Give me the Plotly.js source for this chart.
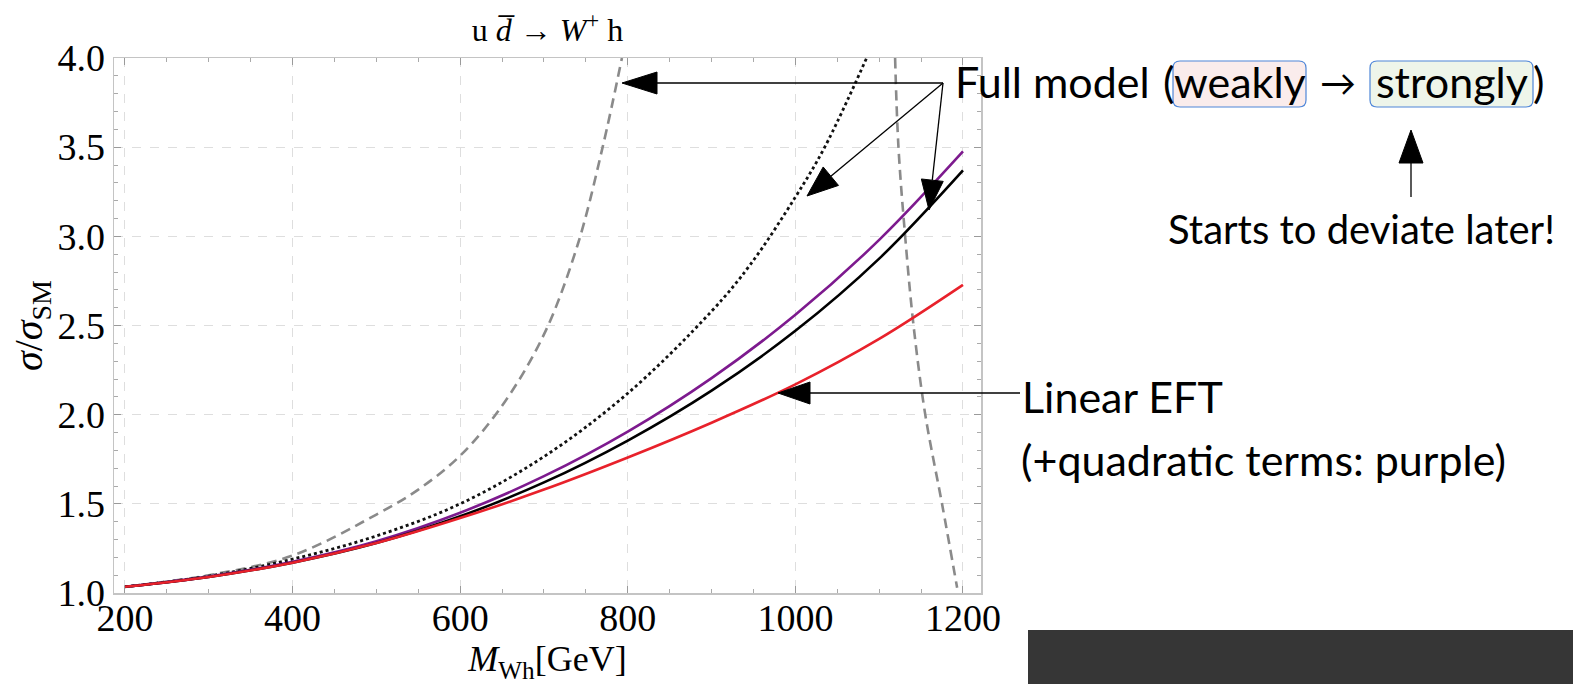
<!DOCTYPE html>
<html>
<head>
<meta charset="utf-8">
<script src="https://cdn.plot.ly/plotly-3.0.1.min.js"></script>
<style>html,body{margin:0;padding:0;background:#fff;}#chart{width:1573px;height:684px;}</style>
</head>
<body>
<div id="chart"></div>
<script>
// ---- data ----
const massGeV      = [200, 300, 400, 500, 600, 700, 800, 900, 1000, 1100, 1200];
const linearEFT    = [1.035, 1.09, 1.17, 1.28, 1.42, 1.58, 1.76, 1.955, 2.17, 2.425, 2.728];
const eftQuadratic = [1.035, 1.092, 1.175, 1.29, 1.45, 1.655, 1.905, 2.205, 2.56, 2.98, 3.476];
const fullStrong   = [1.035, 1.09, 1.17, 1.28, 1.43, 1.62, 1.855, 2.135, 2.47, 2.875, 3.37];

const fullMidX = [200, 300, 400, 500, 600, 700, 800, 900, 946, 1000, 1035, 1085];
const fullMidY = [1.035, 1.095, 1.19, 1.32, 1.5, 1.765, 2.12, 2.58, 2.84, 3.22, 3.5, 4.0];

const fullWeakLeftX  = [200, 300, 400, 500, 550, 600, 650, 700, 740, 770, 793];
const fullWeakLeftY  = [1.035, 1.10, 1.21, 1.44, 1.58, 1.77, 2.05, 2.45, 2.95, 3.5, 4.0];
const fullWeakRightX = [1119, 1123, 1131, 1141, 1155, 1175, 1193];
const fullWeakRightY = [4.0, 3.5, 3.0, 2.5, 2.0, 1.5, 1.03];

const xTicks = [200, 400, 600, 800, 1000, 1200];
const yTicks = [1.0, 1.5, 2.0, 2.5, 3.0, 3.5, 4.0];

// ---- geometry helpers (pixel -> paper) ----
const X0 = 114, X1 = 981, Y0 = 58, Y1 = 593;
const PX = v => (v - X0) / (X1 - X0);
const PY = v => (Y1 - v) / (Y1 - Y0);

const serif = 'Liberation Serif, Times New Roman, serif';
const hand = 'Lato, sans-serif';
const handSize = 43;

const traces = [
  {x: fullWeakLeftX.concat([null], fullWeakRightX), y: fullWeakLeftY.concat([null], fullWeakRightY),
   mode: 'lines', line: {color: '#8a8a8a', width: 2.6, dash: '10px,6px', shape: 'spline', smoothing: 1},
   connectgaps: false, name: 'Full model (weak)', hoverinfo: 'skip'},
  {x: fullMidX, y: fullMidY, mode: 'lines',
   line: {color: '#111', width: 2.8, dash: 'dot', shape: 'spline', smoothing: 1}, name: 'Full model', hoverinfo: 'skip'},
  {x: massGeV, y: eftQuadratic, mode: 'lines',
   line: {color: '#7d1a8e', width: 2.6, shape: 'spline', smoothing: 1}, name: 'EFT + quadratic', hoverinfo: 'skip'},
  {x: massGeV, y: fullStrong, mode: 'lines',
   line: {color: '#000', width: 2.6, shape: 'spline', smoothing: 1}, name: 'Full model (strong)', hoverinfo: 'skip'},
  {x: massGeV, y: linearEFT, mode: 'lines',
   line: {color: '#e8212b', width: 2.6, shape: 'spline', smoothing: 1}, name: 'Linear EFT', hoverinfo: 'skip'}
];

// ---- shapes: arrows, boxes, dark bar ----
const shapes = [];
function line(x0, y0, x1, y1) {
  shapes.push({type: 'line', xref: 'paper', yref: 'paper', x0: PX(x0), y0: PY(y0), x1: PX(x1), y1: PY(y1),
               line: {color: '#000', width: 1.3}, layer: 'above'});
}
function head(sx, sy, tx, ty, L, W) {
  const dx = tx - sx, dy = ty - sy, d = Math.hypot(dx, dy);
  const ux = dx / d, uy = dy / d, nx = -uy, ny = ux;
  const bx = tx - ux * L, by = ty - uy * L;
  const p = [[tx, ty], [bx + nx * W, by + ny * W], [bx - nx * W, by - ny * W]];
  const path = 'M' + p.map(q => PX(q[0]) + ',' + PY(q[1])).join('L') + 'Z';
  shapes.push({type: 'path', xref: 'paper', yref: 'paper', path: path, fillcolor: '#000',
               line: {color: '#000', width: 1}, layer: 'above'});
  return [bx, by];
}
function arrow(sx, sy, tx, ty, L, W) {
  const b = head(sx, sy, tx, ty, L, W);
  line(sx, sy, b[0], b[1]);
}
function roundBox(x0, y0, x1, y1, r, fill, border) {
  const P = (x, y) => PX(x) + ',' + PY(y);
  const path = 'M' + P(x0 + r, y0) + ' L' + P(x1 - r, y0) + ' Q' + P(x1, y0) + ' ' + P(x1, y0 + r) +
    ' L' + P(x1, y1 - r) + ' Q' + P(x1, y1) + ' ' + P(x1 - r, y1) + ' L' + P(x0 + r, y1) +
    ' Q' + P(x0, y1) + ' ' + P(x0, y1 - r) + ' L' + P(x0, y0 + r) + ' Q' + P(x0, y0) + ' ' + P(x0 + r, y0) + ' Z';
  shapes.push({type: 'path', xref: 'paper', yref: 'paper', path: path, fillcolor: fill,
               line: {color: border, width: 1.2}, layer: 'above'});
}

// "Full model" arrows from a common origin
arrow(943, 83, 622, 83, 35, 11);
arrow(943, 83, 807, 196, 31, 12);
arrow(943, 83, 929, 210, 30, 11);
// "Starts to deviate later!" up arrow
arrow(1411, 197, 1411, 130, 33, 12);
// "Linear EFT" arrow
arrow(1020, 393, 778, 393, 32, 11);

// highlighted words
roundBox(1173, 61, 1306, 107, 7, 'rgba(250,236,236,1)', '#4f86d8');
roundBox(1370, 61, 1533, 107, 7, 'rgba(238,245,234,1)', '#4f86d8');

// dark bar bottom right
shapes.push({type: 'rect', xref: 'paper', yref: 'paper', x0: PX(1028), x1: PX(1573), y0: PY(684), y1: PY(630),
             fillcolor: '#363636', line: {width: 0}, layer: 'above'});

// ---- annotations ----
function txt(text, x, y, xanchor, size) {
  return {text: text, xref: 'paper', yref: 'paper', x: PX(x), y: PY(y), xanchor: xanchor, yanchor: 'middle',
          showarrow: false, font: {family: hand, size: size || handSize, color: '#000'}};
}
const annotations = [
  txt('Full model', 953, 82, 'left'),
  txt('(', 1168, 82, 'center'),
  txt('weakly', 1240, 82, 'center'),
  txt('→', 1338, 82, 'center', 36),
  txt('strongly', 1452, 82, 'center'),
  txt(')', 1538, 82, 'center'),
  txt('Starts to deviate later!', 1166, 229, 'left', 40),
  txt('Linear EFT', 1020, 396, 'left'),
  txt('(+quadratic terms: purple)', 1019, 459, 'left')
];

const axisCommon = {
  ticks: 'inside', ticklen: 7, tickwidth: 1, tickcolor: '#9a9a9a',
  showline: true, linecolor: '#c4c4c4', linewidth: 1.5, mirror: 'allticks',
  showgrid: true, gridcolor: '#dedede', griddash: 'dash', gridwidth: 1,
  zeroline: false, tickfont: {family: serif, size: 38, color: '#000'}
};

const layout = {
  width: 1573, height: 684,
  margin: {l: X0, r: 1573 - X1, t: Y0, b: 684 - Y1, pad: 0},
  paper_bgcolor: '#fff', plot_bgcolor: '#fff',
  showlegend: false,
  title: {text: 'u <i>d\u0305</i> → <i>W</i><sup>+</sup> h', font: {family: serif, size: 32, color: '#000'},
          xref: 'paper', x: 0.5, xanchor: 'center', yref: 'container', y: 1 - 30 / 684, yanchor: 'middle'},
  xaxis: Object.assign({}, axisCommon, {
    range: [186.9, 1221.5], tickmode: 'array', tickvals: xTicks, ticktext: xTicks.map(String),
    ticklabelstandoff: -9,
    minor: {dtick: 50, tick0: 200, ticks: 'inside', ticklen: 4, tickcolor: '#aaaaaa', showgrid: false},
    title: {text: '<i>M</i><sub>Wh</sub>[GeV]', font: {family: serif, size: 36, color: '#000'}, standoff: 4}
  }),
  yaxis: Object.assign({}, axisCommon, {
    range: [1, 4], tickmode: 'array', tickvals: yTicks, ticktext: yTicks.map(v => v.toFixed(1)),
    minor: {dtick: 0.1, tick0: 1, ticks: 'inside', ticklen: 4, tickcolor: '#aaaaaa', showgrid: false},
    title: {text: '<i>σ</i>/<i>σ</i><sub>SM</sub>', font: {family: serif, size: 40, color: '#000'}, standoff: 2}
  }),
  shapes: shapes,
  annotations: annotations
};

Plotly.newPlot('chart', traces, layout, {staticPlot: true, displayModeBar: false});
</script>
</body>
</html>
